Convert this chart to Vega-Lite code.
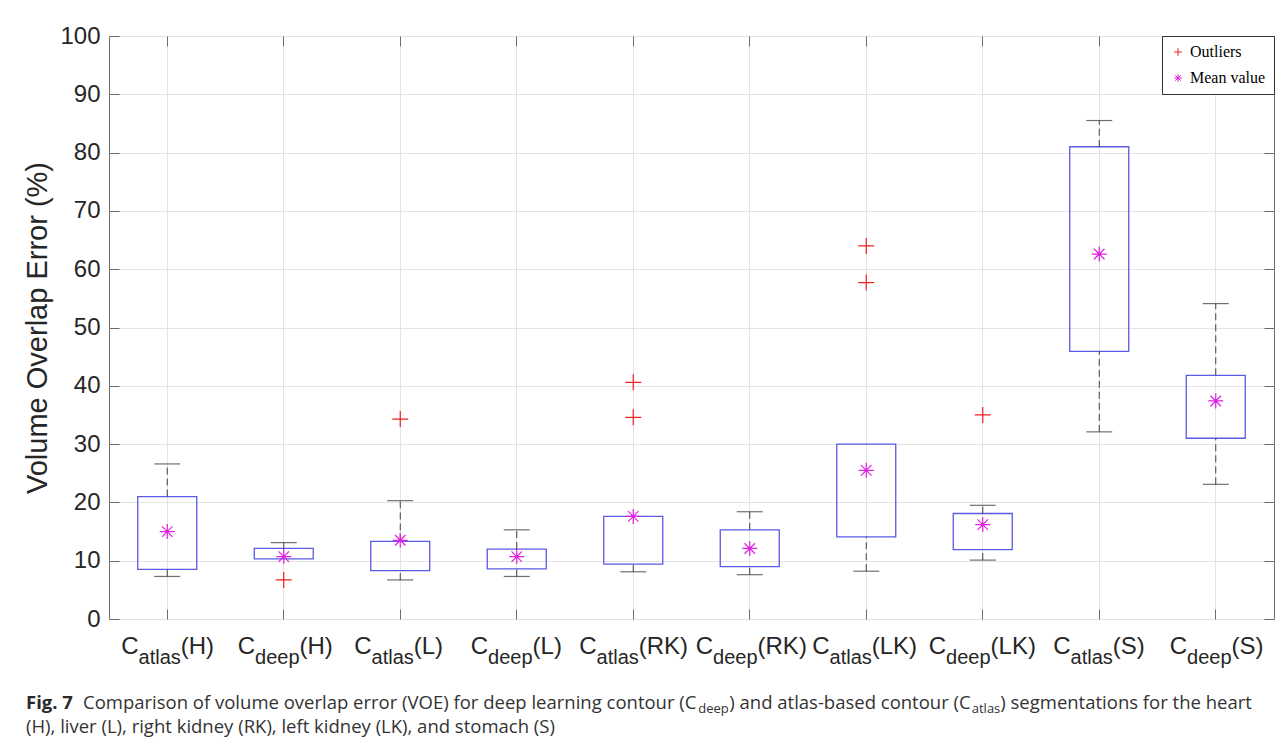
{
  "$schema": "https://vega.github.io/schema/vega-lite/v6.json",
  "width": 1165,
  "height": 583,
  "autosize": {"type": "none"},
  "padding": {"left": 109, "top": 36, "right": 11, "bottom": 122},
  "background": "white",
  "config": {
    "view": {"stroke": "#6b6b6b", "strokeWidth": 1},
    "legend": {
      "orient": "top-right", "offset": 0, "fillColor": "white", "strokeColor": "#333333",
      "padding": 8, "labelFont": "Liberation Serif", "labelFontSize": 16, "labelColor": "#000000",
      "symbolSize": 60, "symbolStrokeWidth": 1, "rowPadding": 10, "symbolOffset": 0
    }
  },
  "datasets": {
    "boxes": [
      {"cat": "atlas(H)", "sub": "atlas", "suffix": "(H)", "lower": 7.3, "q1": 8.5, "q3": 21.0, "upper": 26.6, "mean": 15.0},
      {"cat": "deep(H)", "sub": "deep", "suffix": "(H)", "lower": 10.3, "q1": 10.3, "q3": 12.1, "upper": 13.1, "mean": 10.7},
      {"cat": "atlas(L)", "sub": "atlas", "suffix": "(L)", "lower": 6.7, "q1": 8.3, "q3": 13.3, "upper": 20.3, "mean": 13.5},
      {"cat": "deep(L)", "sub": "deep", "suffix": "(L)", "lower": 7.3, "q1": 8.6, "q3": 12.0, "upper": 15.3, "mean": 10.7},
      {"cat": "atlas(RK)", "sub": "atlas", "suffix": "(RK)", "lower": 8.1, "q1": 9.4, "q3": 17.6, "upper": 17.6, "mean": 17.6},
      {"cat": "deep(RK)", "sub": "deep", "suffix": "(RK)", "lower": 7.6, "q1": 9.0, "q3": 15.3, "upper": 18.4, "mean": 12.1},
      {"cat": "atlas(LK)", "sub": "atlas", "suffix": "(LK)", "lower": 8.2, "q1": 14.1, "q3": 30.0, "upper": 30.0, "mean": 25.5},
      {"cat": "deep(LK)", "sub": "deep", "suffix": "(LK)", "lower": 10.1, "q1": 11.9, "q3": 18.1, "upper": 19.5, "mean": 16.2},
      {"cat": "atlas(S)", "sub": "atlas", "suffix": "(S)", "lower": 32.1, "q1": 45.9, "q3": 81.0, "upper": 85.5, "mean": 62.6},
      {"cat": "deep(S)", "sub": "deep", "suffix": "(S)", "lower": 23.1, "q1": 31.0, "q3": 41.8, "upper": 54.1, "mean": 37.4}
    ],
    "outliers": [
      {"cat": "deep(H)", "value": 6.7},
      {"cat": "atlas(L)", "value": 34.3},
      {"cat": "atlas(RK)", "value": 40.6},
      {"cat": "atlas(RK)", "value": 34.6},
      {"cat": "atlas(LK)", "value": 64.0},
      {"cat": "atlas(LK)", "value": 57.7},
      {"cat": "deep(LK)", "value": 35.0}
    ],
    "one": [{"k": 1}]
  },
  "resolve": {"axis": {"x": "independent", "y": "independent"}},
  "layer": [
    {
      "data": {"name": "boxes"},
      "mark": {"type": "bar", "width": 59, "fill": "white", "fillOpacity": 0, "stroke": "#5a5ae6", "strokeWidth": 1.3},
      "encoding": {
        "x": {"field": "cat", "type": "nominal", "scale": {"domain": ["atlas(H)","deep(H)","atlas(L)","deep(L)","atlas(RK)","deep(RK)","atlas(LK)","deep(LK)","atlas(S)","deep(S)"], "paddingInner": 0, "paddingOuter": 0},
          "axis": {"orient": "bottom", "labels": false, "title": null, "domain": false, "grid": true, "gridColor": "#e4e4e4", "bandPosition": 0.5, "ticks": false, "tickSize": 0}},
        "y": {"field": "q1", "type": "quantitative", "scale": {"domain": [0, 100], "nice": false},
          "axis": {"orient": "left", "values": [0,10,20,30,40,50,60,70,80,90,100], "grid": true, "gridColor": "#e4e4e4", "domain": false,
            "ticks": false, "tickSize": 0, "labelFont": "Liberation Sans", "labelFontSize": 24, "labelColor": "#262626", "labelPadding": 9,
            "title": "Volume Overlap Error (%)", "titleFont": "Liberation Sans", "titleFontSize": 29, "titleFontWeight": "normal", "titleColor": "#262626", "titlePadding": 7}},
        "y2": {"field": "q3"}
      }
    },
    {
      "data": {"name": "boxes"},
      "mark": {"type": "rule", "color": "#404040", "strokeWidth": 1, "strokeDash": [7, 4]},
      "encoding": {
        "x": {"field": "cat", "type": "nominal", "scale": {"domain": ["atlas(H)","deep(H)","atlas(L)","deep(L)","atlas(RK)","deep(RK)","atlas(LK)","deep(LK)","atlas(S)","deep(S)"], "paddingInner": 0, "paddingOuter": 0},
          "axis": {"orient": "top", "offset": -10, "labels": false, "title": null, "domain": false, "grid": false, "bandPosition": 0.5, "ticks": true, "tickSize": 10, "tickColor": "#6b6b6b"}},
        "y": {"field": "lower", "type": "quantitative", "scale": {"domain": [0, 100], "nice": false},
          "axis": {"orient": "right", "offset": -10, "values": [0,10,20,30,40,50,60,70,80,90,100], "labels": false, "title": null, "domain": false, "grid": false, "ticks": true, "tickSize": 10, "tickColor": "#6b6b6b"}},
        "y2": {"field": "q1"}
      }
    },
    {
      "data": {"name": "boxes"},
      "mark": {"type": "rule", "color": "#404040", "strokeWidth": 1, "strokeDash": [7, 4]},
      "encoding": {
        "x": {"field": "cat", "type": "nominal", "scale": {"domain": ["atlas(H)","deep(H)","atlas(L)","deep(L)","atlas(RK)","deep(RK)","atlas(LK)","deep(LK)","atlas(S)","deep(S)"], "paddingInner": 0, "paddingOuter": 0},
          "axis": {"orient": "bottom", "offset": -10, "labels": false, "title": null, "domain": false, "grid": false, "bandPosition": 0.5, "ticks": true, "tickSize": 10, "tickColor": "#6b6b6b"}},
        "y": {"field": "q3", "type": "quantitative", "scale": {"domain": [0, 100], "nice": false},
          "axis": {"orient": "left", "offset": -10, "values": [0,10,20,30,40,50,60,70,80,90,100], "labels": false, "title": null, "domain": false, "grid": false, "ticks": true, "tickSize": 10, "tickColor": "#6b6b6b"}},
        "y2": {"field": "upper"}
      }
    },
    {
      "data": {"name": "boxes"},
      "transform": [{"filter": "datum.lower < datum.q1"}],
      "mark": {"type": "tick", "size": 26, "thickness": 1.2, "color": "#333333"},
      "encoding": {
        "x": {"field": "cat", "type": "nominal", "axis": null},
        "y": {"field": "lower", "type": "quantitative", "axis": null}
      }
    },
    {
      "data": {"name": "boxes"},
      "transform": [{"filter": "datum.upper > datum.q3"}],
      "mark": {"type": "tick", "size": 26, "thickness": 1.2, "color": "#333333"},
      "encoding": {
        "x": {"field": "cat", "type": "nominal", "axis": null},
        "y": {"field": "upper", "type": "quantitative", "axis": null}
      }
    },
    {
      "data": {"name": "outliers"},
      "mark": {"type": "point", "filled": false, "size": 256, "strokeWidth": 1.2, "opacity": 1},
      "encoding": {
        "x": {"field": "cat", "type": "nominal", "axis": null},
        "y": {"field": "value", "type": "quantitative", "axis": null},
        "shape": {"datum": "Outliers", "type": "nominal", "scale": {"domain": ["Outliers", "Mean value"], "range": ["M-1,0H1M0,-1V1", "M-1,0H1M0,-1V1M-0.7,-0.7L0.7,0.7M-0.7,0.7L0.7,-0.7"]}, "legend": {"title": null}},
        "color": {"datum": "Outliers", "type": "nominal", "scale": {"domain": ["Outliers", "Mean value"], "range": ["#ee2020", "#e020e0"]}, "legend": {"title": null}}
      }
    },
    {
      "data": {"name": "boxes"},
      "mark": {"type": "point", "filled": false, "size": 225, "strokeWidth": 1.2, "opacity": 1},
      "encoding": {
        "x": {"field": "cat", "type": "nominal", "axis": null},
        "y": {"field": "mean", "type": "quantitative", "axis": null},
        "shape": {"datum": "Mean value", "type": "nominal"},
        "color": {"datum": "Mean value", "type": "nominal"}
      }
    },
    {
      "data": {"name": "boxes"},
      "transform": [{"filter": "datum.suffix != '(RK)' && datum.suffix != '(LK)'"}],
      "mark": {"type": "text", "text": "C", "align": "left", "baseline": "alphabetic", "dx": -46, "dy": 35.3, "font": "Liberation Sans", "fontSize": 24, "color": "#262626"},
      "encoding": {"x": {"field": "cat", "type": "nominal", "axis": null}, "y": {"datum": 0, "type": "quantitative", "axis": null}}
    },
    {
      "data": {"name": "boxes"},
      "transform": [{"filter": "datum.suffix == '(RK)' || datum.suffix == '(LK)'"}],
      "mark": {"type": "text", "text": "C", "align": "left", "baseline": "alphabetic", "dx": -54, "dy": 35.3, "font": "Liberation Sans", "fontSize": 24, "color": "#262626"},
      "encoding": {"x": {"field": "cat", "type": "nominal", "axis": null}, "y": {"datum": 0, "type": "quantitative", "axis": null}}
    },
    {
      "data": {"name": "boxes"},
      "transform": [{"filter": "datum.suffix != '(RK)' && datum.suffix != '(LK)'"}],
      "mark": {"type": "text", "align": "left", "baseline": "alphabetic", "dx": -28.7, "dy": 45.3, "font": "Liberation Sans", "fontSize": 20, "color": "#262626"},
      "encoding": {"x": {"field": "cat", "type": "nominal", "axis": null}, "y": {"datum": 0, "type": "quantitative", "axis": null}, "text": {"field": "sub"}}
    },
    {
      "data": {"name": "boxes"},
      "transform": [{"filter": "datum.suffix == '(RK)' || datum.suffix == '(LK)'"}],
      "mark": {"type": "text", "align": "left", "baseline": "alphabetic", "dx": -36.7, "dy": 45.3, "font": "Liberation Sans", "fontSize": 20, "color": "#262626"},
      "encoding": {"x": {"field": "cat", "type": "nominal", "axis": null}, "y": {"datum": 0, "type": "quantitative", "axis": null}, "text": {"field": "sub"}}
    },
    {
      "data": {"name": "boxes"},
      "transform": [{"filter": "datum.suffix != '(RK)' && datum.suffix != '(LK)' && datum.sub == 'atlas'"}],
      "mark": {"type": "text", "align": "left", "baseline": "alphabetic", "dx": 13.5, "dy": 35.3, "font": "Liberation Sans", "fontSize": 24, "color": "#262626"},
      "encoding": {"x": {"field": "cat", "type": "nominal", "axis": null}, "y": {"datum": 0, "type": "quantitative", "axis": null}, "text": {"field": "suffix"}}
    },
    {
      "data": {"name": "boxes"},
      "transform": [{"filter": "datum.suffix != '(RK)' && datum.suffix != '(LK)' && datum.sub == 'deep'"}],
      "mark": {"type": "text", "align": "left", "baseline": "alphabetic", "dx": 15.8, "dy": 35.3, "font": "Liberation Sans", "fontSize": 24, "color": "#262626"},
      "encoding": {"x": {"field": "cat", "type": "nominal", "axis": null}, "y": {"datum": 0, "type": "quantitative", "axis": null}, "text": {"field": "suffix"}}
    },
    {
      "data": {"name": "boxes"},
      "transform": [{"filter": "(datum.suffix == '(RK)' || datum.suffix == '(LK)') && datum.sub == 'atlas'"}],
      "mark": {"type": "text", "align": "left", "baseline": "alphabetic", "dx": 5.5, "dy": 35.3, "font": "Liberation Sans", "fontSize": 24, "color": "#262626"},
      "encoding": {"x": {"field": "cat", "type": "nominal", "axis": null}, "y": {"datum": 0, "type": "quantitative", "axis": null}, "text": {"field": "suffix"}}
    },
    {
      "data": {"name": "boxes"},
      "transform": [{"filter": "(datum.suffix == '(RK)' || datum.suffix == '(LK)') && datum.sub == 'deep'"}],
      "mark": {"type": "text", "align": "left", "baseline": "alphabetic", "dx": 7.8, "dy": 35.3, "font": "Liberation Sans", "fontSize": 24, "color": "#262626"},
      "encoding": {"x": {"field": "cat", "type": "nominal", "axis": null}, "y": {"datum": 0, "type": "quantitative", "axis": null}, "text": {"field": "suffix"}}
    },
    {
      "data": {"name": "one"},
      "mark": {"type": "text", "text": "Fig. 7", "align": "left", "baseline": "alphabetic", "dx": -141.25, "dy": 90, "font": "Open Sans", "fontSize": 18.5, "fontWeight": "bold", "color": "#2a2a2a"},
      "encoding": {"x": {"datum": "atlas(H)", "type": "nominal", "axis": null}, "y": {"datum": 0, "type": "quantitative", "axis": null}}
    },
    {
      "data": {"name": "one"},
      "mark": {"type": "text", "text": "Comparison of volume overlap error (VOE) for deep learning contour (C", "align": "left", "baseline": "alphabetic", "dx": -84.25, "dy": 90, "font": "Open Sans", "fontSize": 18.5, "color": "#333333"},
      "encoding": {"x": {"datum": "atlas(H)", "type": "nominal", "axis": null}, "y": {"datum": 0, "type": "quantitative", "axis": null}}
    },
    {
      "data": {"name": "one"},
      "mark": {"type": "text", "text": "deep", "align": "left", "baseline": "alphabetic", "dx": 531, "dy": 94, "font": "Open Sans", "fontSize": 13, "color": "#333333"},
      "encoding": {"x": {"datum": "atlas(H)", "type": "nominal", "axis": null}, "y": {"datum": 0, "type": "quantitative", "axis": null}}
    },
    {
      "data": {"name": "one"},
      "mark": {"type": "text", "text": ") and atlas-based contour (C", "align": "left", "baseline": "alphabetic", "dx": 562, "dy": 90, "font": "Open Sans", "fontSize": 18.5, "color": "#333333"},
      "encoding": {"x": {"datum": "atlas(H)", "type": "nominal", "axis": null}, "y": {"datum": 0, "type": "quantitative", "axis": null}}
    },
    {
      "data": {"name": "one"},
      "mark": {"type": "text", "text": "atlas", "align": "left", "baseline": "alphabetic", "dx": 804.5, "dy": 94, "font": "Open Sans", "fontSize": 13, "color": "#333333"},
      "encoding": {"x": {"datum": "atlas(H)", "type": "nominal", "axis": null}, "y": {"datum": 0, "type": "quantitative", "axis": null}}
    },
    {
      "data": {"name": "one"},
      "mark": {"type": "text", "text": ") segmentations for the heart", "align": "left", "baseline": "alphabetic", "dx": 833, "dy": 90, "font": "Open Sans", "fontSize": 18.5, "color": "#333333"},
      "encoding": {"x": {"datum": "atlas(H)", "type": "nominal", "axis": null}, "y": {"datum": 0, "type": "quantitative", "axis": null}}
    },
    {
      "data": {"name": "one"},
      "mark": {"type": "text", "text": "(H), liver (L), right kidney (RK), left kidney (LK), and stomach (S)", "align": "left", "baseline": "alphabetic", "dx": -141.25, "dy": 114, "font": "Open Sans", "fontSize": 18.5, "color": "#333333"},
      "encoding": {"x": {"datum": "atlas(H)", "type": "nominal", "axis": null}, "y": {"datum": 0, "type": "quantitative", "axis": null}}
    }
  ]
}
